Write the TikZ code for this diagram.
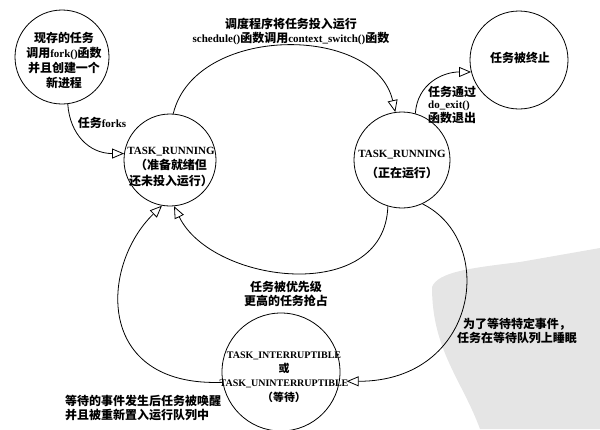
\documentclass[tikz,border=0pt]{standalone}
\usepackage{fontspec}
\setmainfont{Liberation Serif}
\newfontfamily\cjk{Noto Sans CJK SC}[Scale=1.09]
\newcommand{\zh}[1]{{\cjk #1}}
\usetikzlibrary{arrows.meta}

\begin{document}
\begin{tikzpicture}[x=1pt,y=1pt,
    font=\fontsize{11}{14}\selectfont\bfseries,
    state/.style={circle,draw,line width=0.8pt,inner sep=0pt},
    trans/.style={line width=0.8pt,-{Triangle[open,length=12pt,width=10pt]}},
    lbl/.style={align=center,inner sep=0pt}]
    \useasboundingbox (0,0) rectangle (600,-429);
    % watermark blob
    \fill[black!10] (432,-287) .. controls (438,-272) and (470,-268) .. (520,-262) -- (600,-248) -- (600,-429) -- (480,-429) .. controls (462,-380) and (432,-350) .. cycle;
    % states
    \node[state,minimum size=94pt] (fork) at (62,-57) {};
    \node[state,minimum size=92pt] (ready) at (170,-160) {};
    \node[state,minimum size=96pt] (run) at (402,-160) {};
    \node[state,minimum size=98pt] (dead) at (519,-60) {};
    \node[state,minimum size=118pt] (wait) at (281,-372) {};
    % state texts
    \node[lbl,font=\fontsize{11}{15}\selectfont\bfseries] (forktxt) at (64,-60) {\zh{现存的任务}\\ \zh{调用}fork()\zh{函数}\\ \zh{并且创建一个}\\ \zh{新进程}};
    \node[lbl,font=\fontsize{11}{15.5}\selectfont\bfseries] (readytxt) at (171,-167) {TASK\_RUNNING\\ \zh{（准备就绪但}\\ \zh{还未投入运行）}};
    \node[lbl] (runtxt) at (402,-165) {TASK\_RUNNING\\[6pt] \zh{（正在运行）}};
    \node[lbl] (deadtxt) at (520,-58) {\zh{任务被终止}};
    \node[lbl,font=\fontsize{10}{14.3}\selectfont\bfseries] (waittxt) at (284,-377) {TASK\_INTERRUPTIBLE\\ \zh{或}\\ TASK\_UNINTERRUPTIBLE\\ \zh{（等待）}};
    % transitions
    \draw[trans] (fork.277) .. controls +(2,-30) and +(-35,0) .. (ready.172);
    \draw[trans] (ready.86) .. controls +(22,90) and +(-20,88) .. (run.98);
    \draw[trans] (run.74) .. controls +(2,30) and +(-28,0) .. (dead.194);
    \draw[trans,shorten >=7pt] (run.-65) .. controls +(75,-37) and +(139,0) .. (wait.-9);
    \draw[trans] (run.-107) .. controls +(-3,-99) and +(38,-78) .. (ready.-85);
    \draw[trans] (wait.190) .. controls +(-128,-5) and +(-62,-60) .. (ready.-100);
    % labels
    \node[lbl] (forkslbl) at (102,-123) {\zh{任务}forks};
    \node[lbl] (schedlbl) at (291,-31) {\zh{调度程序将任务投入运行}\\ schedule()\zh{函数调用}context\_switch()\zh{函数}};
    \node[lbl,align=left,anchor=west,font=\fontsize{11}{12.5}\selectfont\bfseries] (exitlbl) at (428,-105) {\zh{任务通过}\\ do\_exit()\\ \zh{函数退出}};
    \node[lbl] (sleeplbl) at (517,-331) {\zh{为了等待特定事件，}\\ \zh{任务在等待队列上睡眠}};
    \node[lbl] (preemptlbl) at (286,-294) {\zh{任务被优先级}\\ \zh{更高的任务抢占}};
    \node[lbl,align=left,anchor=west] (wakelbl) at (65,-408) {\zh{等待的事件发生后任务被唤醒}\\ \zh{并且被重新置入运行队列中}};
\end{tikzpicture}
\end{document}
